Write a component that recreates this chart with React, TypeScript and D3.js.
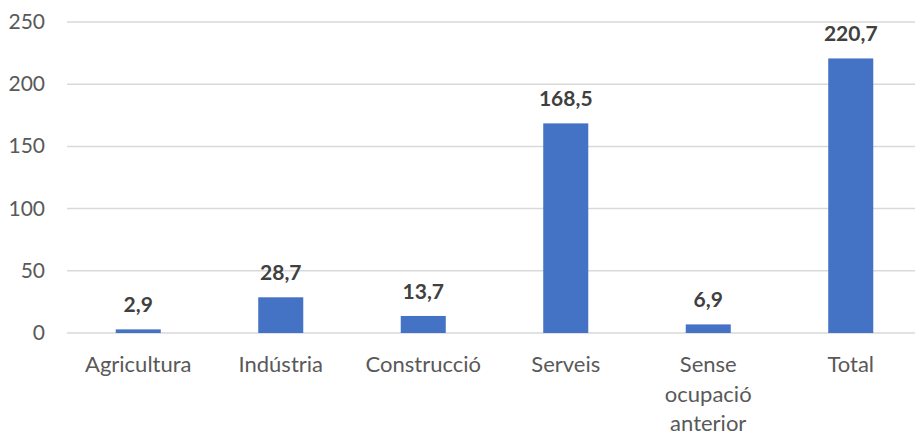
import React, { useRef, useEffect } from "react";
import * as d3 from "d3";

const categories = ["Agricultura", "Indústria", "Construcció", "Serveis", "Sense ocupació anterior", "Total"];
const categoryLines = [["Agricultura"], ["Indústria"], ["Construcció"], ["Serveis"], ["Sense", "ocupació", "anterior"], ["Total"]];
const values = [2.9, 28.7, 13.7, 168.5, 6.9, 220.7];
const yTicks = [0, 50, 100, 150, 200, 250];

const width = 915;
const height = 435;

function BarChart() {
  const svgRef = useRef<SVGSVGElement>(null);

  useEffect(() => {
    const svg = d3.select(svgRef.current);
    svg.selectAll("*").remove();

    const font = "Lato, 'Open Sans', sans-serif";

    const x = d3
      .scaleBand<string>()
      .domain(categories)
      .range([67, 922])
      .paddingInner(0.684)
      .paddingOuter(0.342);

    const y = d3.scaleLinear().domain([0, 250]).range([333, 22]);

    // gridlines
    svg
      .append("g")
      .selectAll("line")
      .data(yTicks)
      .join("line")
      .attr("x1", 67)
      .attr("x2", 922)
      .attr("y1", (d) => y(d))
      .attr("y2", (d) => y(d))
      .attr("stroke", "#d9d9d9")
      .attr("stroke-width", 1.5);

    // y tick labels
    svg
      .append("g")
      .selectAll("text")
      .data(yTicks)
      .join("text")
      .attr("x", 45)
      .attr("y", (d) => y(d) + 7)
      .attr("text-anchor", "end")
      .attr("font-family", font)
      .attr("font-size", 21)
      .attr("fill", "#595959")
      .text((d) => d);

    // bars
    svg
      .append("g")
      .selectAll("rect")
      .data(values)
      .join("rect")
      .attr("x", (_, i) => x(categories[i])!)
      .attr("width", x.bandwidth())
      .attr("y", (d) => y(d))
      .attr("height", (d) => y(0) - y(d))
      .attr("fill", "#4472c4");

    // data labels
    svg
      .append("g")
      .selectAll("text")
      .data(values)
      .join("text")
      .attr("x", (_, i) => x(categories[i])! + x.bandwidth() / 2)
      .attr("y", (d) => y(d) - 17)
      .attr("text-anchor", "middle")
      .attr("font-family", font)
      .attr("font-weight", "bold")
      .attr("font-size", 21)
      .attr("fill", "#404040")
      .text((d) => d3.format(".1f")(d).replace(".", ","));

    // category labels
    const cat = svg
      .append("g")
      .selectAll("text")
      .data(categoryLines)
      .join("text")
      .attr("x", (_, i) => x(categories[i])! + x.bandwidth() / 2)
      .attr("y", 372)
      .attr("text-anchor", "middle")
      .attr("font-family", font)
      .attr("font-size", 22)
      .attr("fill", "#595959");

    cat
      .selectAll("tspan")
      .data((d) => d)
      .join("tspan")
      .attr("x", function () {
        return (this.parentNode as SVGTextElement).getAttribute("x");
      })
      .attr("dy", (_, j) => (j === 0 ? 0 : 29.5))
      .text((d) => d);
  }, []);

  return <svg ref={svgRef} width={width} height={height} style={{ display: "block" }}></svg>;
}

export default function App() {
  return (
    <div style={{ position: "fixed", left: 0, top: 0, width, height, overflow: "hidden", background: "#fff" }}>
      <BarChart />
    </div>
  );
}
